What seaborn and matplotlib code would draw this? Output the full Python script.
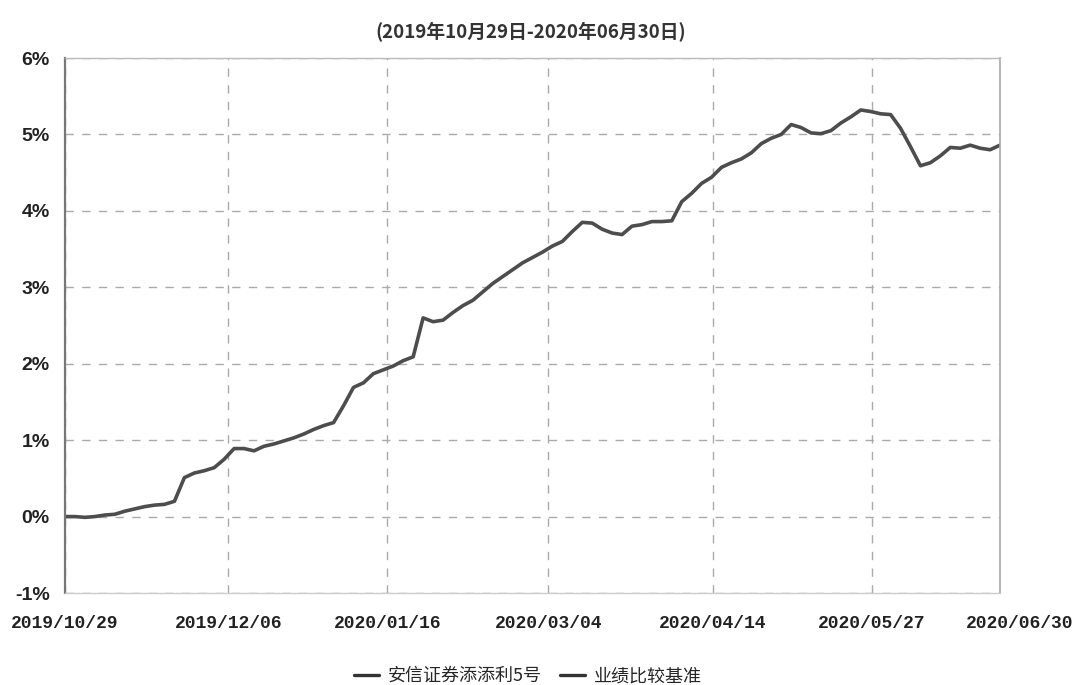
import matplotlib
matplotlib.use("Agg")
import matplotlib.pyplot as plt
import matplotlib.transforms as mtransforms
import seaborn as sns
import pandas as pd
from matplotlib.lines import Line2D
from matplotlib.ticker import FuncFormatter

# Cumulative return of the fund (%), sampled roughly every 2 trading days
fund_returns = [
    0.00, 0.00, -0.01, 0.00, 0.02, 0.03, 0.07, 0.10, 0.13, 0.15,
    0.16, 0.20, 0.51, 0.57, 0.60, 0.64, 0.75, 0.89, 0.89, 0.86,
    0.92, 0.95, 0.99, 1.03, 1.08, 1.14, 1.19, 1.23, 1.45, 1.69,
    1.75, 1.87, 1.92, 1.97, 2.04, 2.09, 2.60, 2.55, 2.57, 2.67,
    2.76, 2.83, 2.94, 3.05, 3.14, 3.23, 3.32, 3.39, 3.46, 3.54,
    3.60, 3.73, 3.85, 3.84, 3.76, 3.71, 3.69, 3.80, 3.82, 3.86,
    3.86, 3.87, 4.12, 4.23, 4.36, 4.44, 4.57, 4.63, 4.68, 4.76,
    4.88, 4.95, 5.00, 5.13, 5.09, 5.02, 5.01, 5.05, 5.15, 5.23,
    5.32, 5.30, 5.27, 5.26, 5.08, 4.84, 4.59, 4.63, 4.72, 4.83,
    4.82, 4.86, 4.82, 4.80, 4.86,
]
date_labels = ["2019/10/29", "2019/12/06", "2020/01/16", "2020/03/04",
               "2020/04/14", "2020/05/27", "2020/06/30"]
date_positions = [0, 16.4, 32.4, 48.6, 65.1, 81.1, 94]
y_ticks = [-1, 0, 1, 2, 3, 4, 5, 6]
fund_name = "安信证券添添利5号"
bench_name = "业绩比较基准"
title = "(2019年10月29日-2020年06月30日)"

df = pd.DataFrame({"idx": range(len(fund_returns)), "ret": fund_returns})

sns.set_style("white")
plt.rcParams["font.family"] = ["Noto Sans CJK SC", "DejaVu Sans"]

fig = plt.figure(figsize=(10.73, 6.85), dpi=100)
ax = fig.add_axes([0.0606, 0.1343, 0.8714, 0.781])

line_color = "#4d4d4d"
sns.lineplot(data=df, x="idx", y="ret", ax=ax, color=line_color, linewidth=2.6)

ax.set_xlim(0, len(fund_returns) - 1)
ax.set_ylim(-1, 6)
ax.set_xticks(date_positions)
ax.set_xticklabels(date_labels, family="Liberation Mono", fontweight="bold",
                   fontsize=13, color="#222222")
ax.set_yticks(y_ticks)
ax.yaxis.set_major_formatter(FuncFormatter(lambda v, p: f"{v:.0f}%"))
for lab in ax.get_yticklabels():
    lab.set_family("Liberation Sans")
    lab.set_fontweight("bold")
    lab.set_fontsize(14)
    lab.set_color("#222222")
ax.tick_params(axis="x", length=0, pad=16)
ax.tick_params(axis="y", length=0, pad=11)
ax.set_xlabel("")
ax.set_ylabel("")

# last date label sits a little right of its gridline
last = ax.get_xticklabels()[-1]
last.set_transform(last.get_transform() +
                   mtransforms.ScaledTranslation(0.2, 0, fig.dpi_scale_trans))

ax.grid(True, linestyle=(0, (6, 6)), color="#aaaaaa", linewidth=1.0)
for side, col, lw in [("left", "#777777", 1.6), ("top", "#bbbbbb", 1.0),
                      ("right", "#aaaaaa", 1.2), ("bottom", "#cccccc", 1.0)]:
    ax.spines[side].set_visible(True)
    ax.spines[side].set_color(col)
    ax.spines[side].set_linewidth(lw)

fig.text(0.495, 0.953, title, ha="center", va="center", fontsize=13.5,
         fontweight="bold", color="#333333")

handles = [Line2D([], [], color="#333333", linewidth=2.4),
           Line2D([], [], color="#333333", linewidth=2.4)]
fig.legend(handles, [fund_name, bench_name], loc="center",
           bbox_to_anchor=(0.492, 0.013), ncol=2, frameon=False,
           fontsize=13, handlelength=1.4, columnspacing=1.0, handletextpad=0.5)

fig.savefig("out.png", dpi=100)
